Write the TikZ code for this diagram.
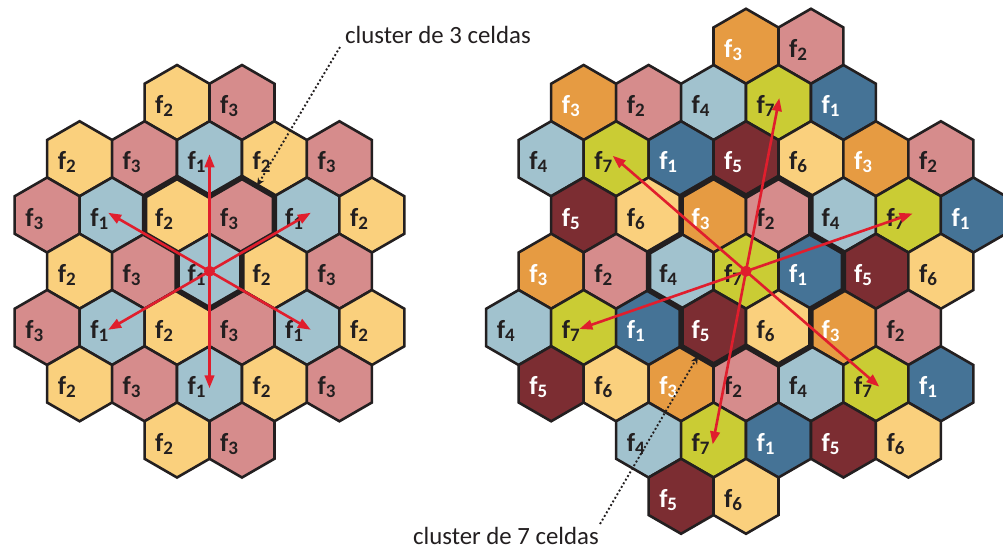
\documentclass[tikz,border=0pt]{standalone}
\usepackage{fontspec}
\setmainfont{Carlito}
\usetikzlibrary{arrows.meta,calc}
\definecolor{cline}{HTML}{231F20}
\definecolor{cyel}{HTML}{FAD07D}
\definecolor{cpink}{HTML}{D68C8C}
\definecolor{clblue}{HTML}{A1C2CE}
\definecolor{cdblue}{HTML}{457396}
\definecolor{cdred}{HTML}{7C2D32}
\definecolor{corange}{HTML}{E69B42}
\definecolor{clime}{HTML}{CACC34}
\definecolor{cred}{HTML}{E01E2D}
\colorlet{L1}{clblue}\colorlet{L2}{cyel}\colorlet{L3}{cpink}
\colorlet{R1}{cdblue}\colorlet{R2}{cpink}\colorlet{R3}{corange}\colorlet{R4}{clblue}
\colorlet{R5}{cdred}\colorlet{R6}{cyel}\colorlet{R7}{clime}
\colorlet{T1}{white}\colorlet{T2}{cline}\colorlet{T3}{white}\colorlet{T4}{cline}
\colorlet{T5}{white}\colorlet{T6}{cline}\colorlet{T7}{cline}
\newcommand\lbl[1]{{\fontsize{26}{26}\selectfont f}\raisebox{-3pt}{\fontsize{19}{19}\selectfont #1}}
\begin{document}
\begin{tikzpicture}[x=1pt,y=-1pt,
  hexline/.style={draw=cline, line width=2.6pt, line join=miter},
  clus/.style={draw=cline, line width=5.5pt, line join=miter},
  lab/.style={inner sep=0pt, anchor=base west, font=\bfseries},
  redarr/.style={draw=cred, line width=2.6pt, -{Triangle[length=13pt,width=9.5pt]}, shorten >=-4.5pt},
  ann/.style={draw=cline, line width=1.9pt, dash pattern=on 1.9pt off 2.3pt, -{Stealth[length=8pt,width=7pt]}},
  anntext/.style={font=\fontsize{24.8}{25}\selectfont, text=cline, inner sep=0pt, text depth=0pt, anchor=base west}]
\useasboundingbox (0,0) rectangle (1003,550);
\fill[white] (0,0) rectangle (1003,550);
% left cluster (N=3)
\foreach \k/\r/\n [count=\i] in {-1/-3/2, 1/-3/3,
  -4/-2/2, -2/-2/3, 0/-2/1, 2/-2/2, 4/-2/3,
  -5/-1/3, -3/-1/1, -1/-1/2, 1/-1/3, 3/-1/1, 5/-1/2,
  -4/0/2, -2/0/3, 0/0/1, 2/0/2, 4/0/3,
  -5/1/3, -3/1/1, -1/1/2, 1/1/3, 3/1/1, 5/1/2,
  -4/2/2, -2/2/3, 0/2/1, 2/2/2, 4/2/3,
  -1/3/2, 1/3/3} {
  \pgfmathsetmacro\cx{209.5+\k*32.476}
  \pgfmathsetmacro\cy{271.25+\r*56.25}
  \coordinate (L\k r\r) at (\cx,\cy);
  \filldraw[hexline, fill=L\n] (\cx,\cy-37.5) -- ++(32.476,18.75) -- ++(0,37.5) -- ++(-32.476,18.75) -- ++(-32.476,-18.75) -- ++(0,-37.5) -- cycle;
  \node[lab, text=cline] (Ll\i) at (\cx-22,\cy+11) {\lbl{\n}};
}
% right cluster (N=7)
\foreach \k/\r/\n [count=\i] in {0/-4/3, 2/-4/2,
  -5/-3/3, -3/-3/2, -1/-3/4, 1/-3/7, 3/-3/1,
  -6/-2/4, -4/-2/7, -2/-2/1, 0/-2/5, 2/-2/6, 4/-2/3, 6/-2/2,
  -5/-1/5, -3/-1/6, -1/-1/3, 1/-1/2, 3/-1/4, 5/-1/7, 7/-1/1,
  -6/0/3, -4/0/2, -2/0/4, 0/0/7, 2/0/1, 4/0/5, 6/0/6,
  -7/1/4, -5/1/7, -3/1/1, -1/1/5, 1/1/6, 3/1/3, 5/1/2,
  -6/2/5, -4/2/6, -2/2/3, 0/2/2, 2/2/4, 4/2/7, 6/2/1,
  -3/3/4, -1/3/7, 1/3/1, 3/3/5, 5/3/6,
  -2/4/5, 0/4/6} {
  \pgfmathsetmacro\cx{746+\k*32.476}
  \pgfmathsetmacro\cy{271.25+\r*56.25}
  \coordinate (R\k r\r) at (\cx,\cy);
  \filldraw[hexline, fill=R\n] (\cx,\cy-37.5) -- ++(32.476,18.75) -- ++(0,37.5) -- ++(-32.476,18.75) -- ++(-32.476,-18.75) -- ++(0,-37.5) -- cycle;
  \node[lab, text=T\n] (Rl\i) at (\cx-22,\cy+11) {\lbl{\n}};
}
% cluster outlines
\begin{scope}[shift={(209.5,271.25)}]
\draw[clus] (-32.476,-93.75) -- (0,-75) -- (32.476,-93.75) -- (64.952,-75) -- (64.952,-37.5) -- (32.476,-18.75) -- (32.476,18.75) -- (0,37.5) -- (-32.476,18.75) -- (-32.476,-18.75) -- (-64.952,-37.5) -- (-64.952,-75) -- cycle;
\end{scope}
\begin{scope}[shift={(746,271.25)}]
\draw[clus] (32.476,-93.75) -- (64.952,-75) -- (64.952,-37.5) -- (97.428,-18.75) -- (97.428,18.75) -- (64.952,37.5) -- (64.952,75) -- (32.476,93.75) -- (0,75) -- (-32.476,93.75) -- (-64.952,75) -- (-64.952,37.5) -- (-97.428,18.75) -- (-97.428,-18.75) -- (-64.952,-37.5) -- (-64.952,-75) -- (-32.476,-93.75) -- (0,-75) -- cycle;
\end{scope}
% reuse arrows
\foreach \t in {0r-2, -3r-1, 3r-1, -3r1, 3r1, 0r2} \draw[redarr] (L0r0) -- (L\t);
\fill[cred] (L0r0) circle (5.5pt);
\foreach \t in {1r-3, -4r-2, 5r-1, -5r1, 4r2, -1r3} \draw[redarr] (R0r0) -- (R\t);
\fill[cred] (R0r0) circle (5.5pt);
% annotations
\node[anntext] (t3) at (345,43.3) {cluster de 3 celdas};
\coordinate (a3s) at (340,47);
\coordinate (a3e) at (257,186);
\draw[ann] (a3s) -- (a3e);
\node[anntext] (t7) at (413,544.5) {cluster de 7 celdas};
\coordinate (a7s) at (600,524);
\coordinate (a7e) at (698,356);
\draw[ann] (a7s) -- (a7e);
\end{tikzpicture}
\end{document}
